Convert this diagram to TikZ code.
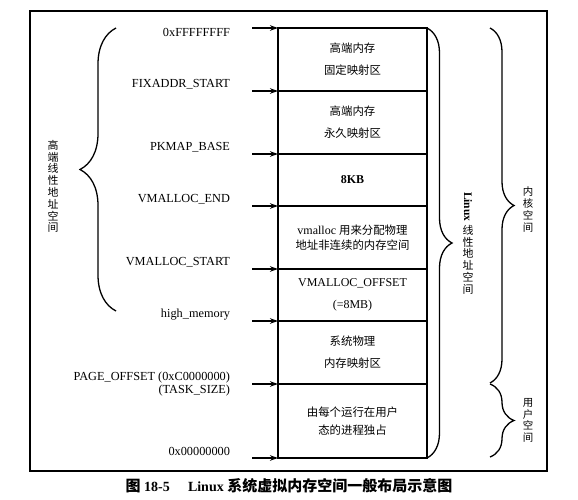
\documentclass[tikz,border=0pt]{standalone}
\usepackage{fontspec}
\setmainfont{Liberation Serif}
\newfontfamily\cjk[Scale=0.95]{Noto Sans CJK SC}
\newfontfamily\cjkcap{Noto Sans CJK SC}
\newcommand{\zhs}[1]{{\cjk #1}}
\usetikzlibrary{arrows.meta,decorations.pathreplacing}
\begin{document}
\begin{tikzpicture}[x=1pt,y=-1pt,
  every node/.style={inner sep=0pt, outer sep=0pt},
  frame/.style={draw, line width=1.3pt},
  membox/.style={draw, line width=1.3pt, minimum width=149pt, align=center,
                 font=\fontsize{12}{22}\selectfont},
  addr/.style={anchor=east, align=right, font=\fontsize{12.3}{13}\selectfont},
  ptr/.style={-{Stealth[length=8pt,width=5.5pt]}, line width=1.1pt},
  curly/.style={decorate, decoration={brace, amplitude=#1}, line width=1.3pt},
  vtext/.style={align=center, font=\cjk\fontsize{11.5}{11.8}\selectfont},
]
\useasboundingbox (0,0) rectangle (578,500);

% outer frame
\node[frame, minimum width=517pt, minimum height=460pt] (frm) at (288.5,241) {};

% memory column
\node[membox, minimum height=63pt] (b1) at (352.5,59.5) {\zhs{高端内存}\\\zhs{固定映射区}};
\node[membox, minimum height=63pt] (b2) at (352.5,122.5) {\zhs{高端内存}\\\zhs{永久映射区}};
\node[membox, minimum height=52pt] (b3) at (352.5,180) {\bfseries 8KB};
\node[membox, minimum height=63pt, font=\fontsize{12}{15}\selectfont] (b4) at (352.5,237.5) {vmalloc \zhs{用来分配物理}\\\zhs{地址非连续的内存空间}};
\node[membox, minimum height=52pt] (b5) at (352.5,295) {VMALLOC\_OFFSET\\(=8MB)};
\node[membox, minimum height=63pt] (b6) at (352.5,352.5) {\zhs{系统物理}\\\zhs{内存映射区}};
\node[membox, minimum height=74pt, font=\fontsize{12}{18}\selectfont] (b7) at (352.5,421) {\zhs{由每个运行在用户}\\\zhs{态的进程独占}};

% address labels
\node[addr] (l1) at (230,32) {0xFFFFFFFF};
\node[addr] (l2) at (230,84) {FIXADDR\_START};
\node[addr] (l3) at (230,147) {PKMAP\_BASE};
\node[addr] (l4) at (230,199) {VMALLOC\_END};
\node[addr] (l5) at (230,262) {VMALLOC\_START};
\node[addr] (l6) at (230,315) {high\_memory};
\node[addr] (l7) at (230,384.5) {PAGE\_OFFSET (0xC0000000)\\(TASK\_SIZE)};
\node[addr] (l8) at (230,451) {0x00000000};

% arrows
\coordinate (s1) at (252,28);
\coordinate (s2) at (252,91);
\coordinate (s3) at (252,154);
\coordinate (s4) at (252,206);
\coordinate (s5) at (252,269);
\coordinate (s6) at (252,321);
\coordinate (s7) at (252,384);
\coordinate (s8) at (252,458);
\draw[ptr] (s1) -- (b1.north west);
\draw[ptr] (s2) -- (b2.north west);
\draw[ptr] (s3) -- (b3.north west);
\draw[ptr] (s4) -- (b4.north west);
\draw[ptr] (s5) -- (b5.north west);
\draw[ptr] (s6) -- (b6.north west);
\draw[ptr] (s7) -- (b7.north west);
\draw[ptr] (s8) -- (b7.south west);

% left brace
\coordinate (lbt) at (116,28);
\coordinate (lbb) at (116,311);
\draw[curly=36pt] (lbb) -- (lbt);
\node[vtext] (lt) at (53,186.5) {高\\端\\线\\性\\地\\址\\空\\间};

% middle brace
\draw[curly=25pt] (b1.north east) -- (b7.south east);
\node[rotate=-90, anchor=west, font=\bfseries\fontsize{11.5}{12}\selectfont] (lx) at (468,192) {Linux};
\node[vtext, anchor=north] (lz) at (468,225) {线\\性\\地\\址\\空\\间};

% kernel brace
\coordinate (kt) at (490,28);
\coordinate (kb) at (490,383);
\draw[curly=24pt] (kt) -- (kb);
\node[vtext, font=\cjk\fontsize{11}{11.7}\selectfont] (kz) at (528,209.5) {内\\核\\空\\间};

% user brace
\coordinate (ut) at (490,384);
\coordinate (ub) at (490,457);
\draw[curly=24pt] (ut) -- (ub);
\node[vtext, font=\cjk\fontsize{11}{11.7}\selectfont] (uz) at (528,420.5) {用\\户\\空\\间};

% caption
\node[font=\bfseries\fontsize{14}{16}\selectfont] (cap) at (289,486) {{\cjkcap\fontsize{15}{16}\selectfont 图}~18-5\hspace{1.3em}Linux~{\cjkcap\fontsize{15}{16}\selectfont 系统虚拟内存空间一般布局示意图}};
\end{tikzpicture}
\end{document}
